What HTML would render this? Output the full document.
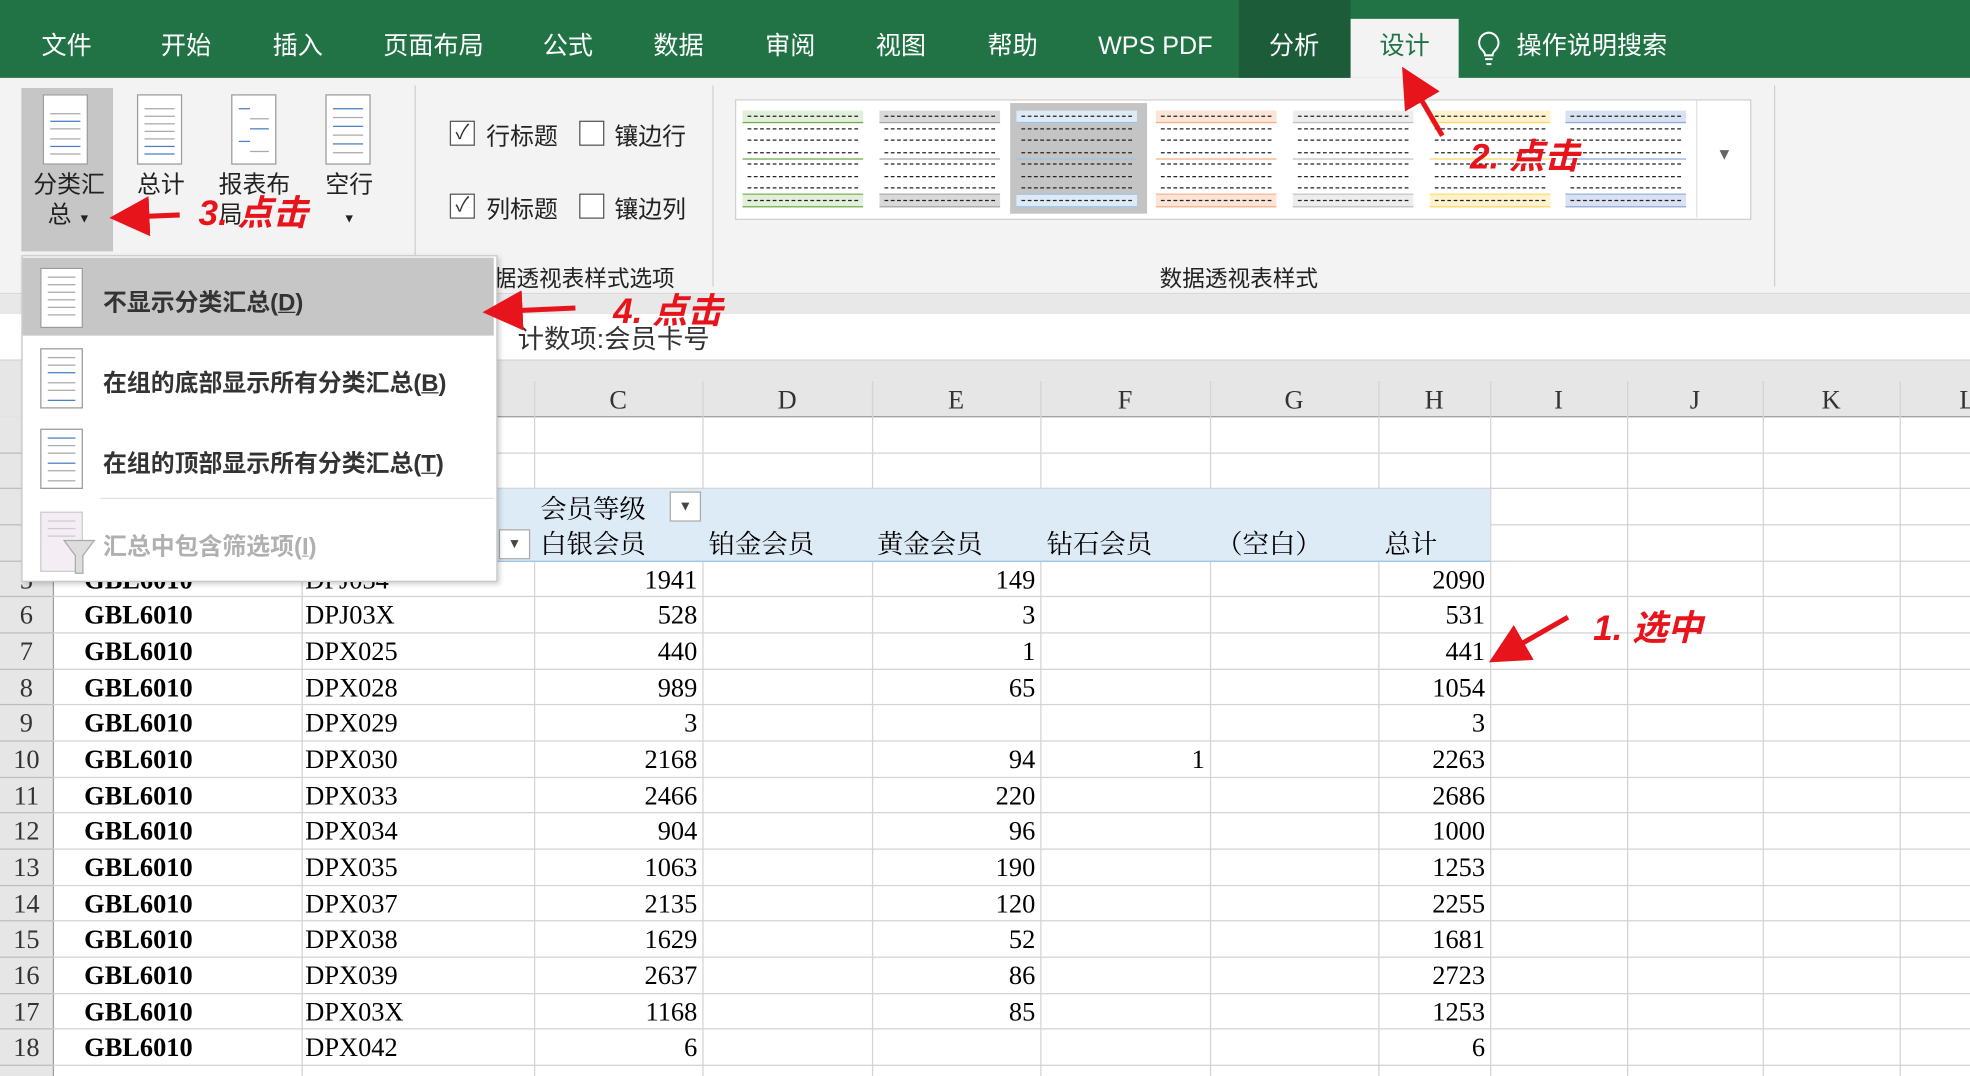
<!DOCTYPE html>
<html><head><meta charset="utf-8">
<style>
html,body{margin:0;padding:0;width:1970px;height:1076px;overflow:hidden;background:#fff}
#root{position:absolute;left:0;top:0;width:1568px;height:856px;transform:scale(1.25638,1.257);transform-origin:0 0;overflow:hidden;font-family:"Liberation Sans","Noto Sans CJK SC",sans-serif}
.abs{position:absolute}
.tab{position:absolute;top:22px;color:#fff;font-size:20px;line-height:30px}
.cell{position:absolute;font-size:21px;line-height:28px;font-family:"Liberation Serif","Noto Serif CJK SC",serif;color:#000;white-space:nowrap}
.hl{position:absolute;height:1px;background:#d4d4d4}
.vl{position:absolute;width:1px;background:#d4d4d4}
.page{position:absolute;width:34px;height:54px;background:#fff;border:1px solid #9a9a9a}
.page i{position:absolute;left:5px;right:5px;height:1px;background:#aaa}
.cb{position:absolute;width:18px;height:18px;border:1px solid #555;background:#fff;font-size:16px;line-height:18px;text-align:center;color:#333}
.rl{position:absolute;font-size:19px;color:#222}
.thumb{position:absolute;top:88px;width:96px;height:76px}
.mi{position:absolute;left:82px;font-size:19px;font-weight:bold;color:#333}
.red{position:absolute;color:#e8141c;font-style:italic;font-size:28px;font-weight:bold;white-space:nowrap}
</style></head><body>
<div id="root">
<div class="abs" style="left:0;top:0;width:1568px;height:62px;background:#217346"></div>
<div class="abs" style="left:986px;top:0;width:89px;height:62px;background:#1d5c39"></div>
<div class="abs" style="left:1075px;top:15px;width:86px;height:47px;background:#f3f3f3"></div>
<div class="tab" style="left:33px">文件</div>
<div class="tab" style="left:128px">开始</div>
<div class="tab" style="left:217px">插入</div>
<div class="tab" style="left:305px">页面布局</div>
<div class="tab" style="left:432px">公式</div>
<div class="tab" style="left:520px">数据</div>
<div class="tab" style="left:609px">审阅</div>
<div class="tab" style="left:697px">视图</div>
<div class="tab" style="left:786px">帮助</div>
<div class="tab" style="left:874px">WPS PDF</div>
<div class="tab" style="left:1010px">分析</div>
<div class="tab" style="left:1098px;color:#217346">设计</div>
<svg class="abs" style="left:1174px;top:24px" width="22" height="30"><path d="M11 2a8 8 0 0 0-5 14c1 1 2 2 2 4h6c0-2 1-3 2-4a8 8 0 0 0-5-14z" fill="none" stroke="#fff" stroke-width="1.6"/><line x1="8" y1="23" x2="14" y2="23" stroke="#fff" stroke-width="1.6"/><line x1="9" y1="27" x2="13" y2="27" stroke="#fff" stroke-width="1.6"/></svg>
<div class="tab" style="left:1207px">操作说明搜索</div>

<div class="abs" style="left:0;top:62px;width:1568px;height:171px;background:#f3f3f3;border-bottom:1px solid #d8d8d8"></div>
<div class="abs" style="left:0;top:234px;width:1568px;height:16px;background:#e8e8e8"></div>
<div class="abs" style="left:17px;top:70px;width:73px;height:130px;background:#c6c6c6"></div>
<div class="page" style="left:34px;top:75px"><i style="top:14px;background:#aaa"></i><i style="top:20px;background:#4a7fc1"></i><i style="top:26px"></i><i style="top:34px"></i><i style="top:40px;background:#4a7fc1"></i><i style="top:46px"></i></div>
<div class="page" style="left:109px;top:75px"><i style="top:10px"></i><i style="top:16px"></i><i style="top:22px"></i><i style="top:28px"></i><i style="top:34px"></i><i style="top:40px;background:#4a7fc1"></i><i style="top:46px;background:#4a7fc1"></i></div>
<div class="page" style="left:184px;top:75px"><i style="top:10px;right:20px;background:#4a7fc1"></i><i style="top:18px;left:14px"></i><i style="top:26px;left:14px;background:#4a7fc1"></i><i style="top:36px;right:20px;background:#4a7fc1"></i><i style="top:44px;left:14px"></i></div>
<div class="page" style="left:259px;top:75px"><i style="top:10px;background:#4a7fc1"></i><i style="top:17px"></i><i style="top:24px;background:#4a7fc1"></i><i style="top:31px"></i><i style="top:38px;background:#4a7fc1"></i><i style="top:45px"></i></div>
<div class="rl" style="left:25px;top:136px;width:60px;line-height:24px;text-align:center">分类汇<br>总 <span style="font-size:10px">▼</span></div>
<div class="rl" style="left:109px;top:136px;line-height:24px">总计</div>
<div class="rl" style="left:174px;top:136px;line-height:24px;width:60px">报表布<br>局</div>
<div class="rl" style="left:258px;top:136px;line-height:24px;text-align:center;width:40px">空行<br><span style="font-size:10px">▼</span></div>
<div class="abs" style="left:330px;top:68px;width:1px;height:160px;background:#d0d0d0"></div>
<div class="abs" style="left:567px;top:68px;width:1px;height:160px;background:#d0d0d0"></div>
<div class="abs" style="left:1412px;top:68px;width:1px;height:160px;background:#d0d0d0"></div>
<div class="cb" style="left:358px;top:96px">✓</div>
<div class="rl" style="left:387px;top:94px">行标题</div>
<div class="cb" style="left:461px;top:96px"></div>
<div class="rl" style="left:489px;top:94px">镶边行</div>
<div class="cb" style="left:358px;top:154px">✓</div>
<div class="rl" style="left:387px;top:152px">列标题</div>
<div class="cb" style="left:461px;top:154px"></div>
<div class="rl" style="left:489px;top:152px">镶边列</div>
<div class="rl" style="left:375px;top:208px;font-size:18px">数据透视表样式选项</div>
<div class="abs" style="left:585px;top:79px;width:807px;height:94px;background:#fff;border:1px solid #d0d0d0"></div>
<div class="abs" style="left:1350px;top:80px;width:1px;height:93px;background:#e0e0e0"></div>
<div class="abs" style="left:1366px;top:115px;font-size:13px;color:#666">▼</div>
<div class="abs" style="left:804px;top:82px;width:109px;height:88px;background:#c4c4c4"></div>
<div id="thumbs"></div>
<div class="rl" style="left:923px;top:208px;font-size:18px">数据透视表样式</div>

<div class="abs" style="left:0;top:250px;width:1568px;height:36px;background:#fff;border-bottom:1px solid #d0d0d0"></div>
<div class="abs" style="left:412px;top:254px;font-size:21px;color:#333">计数项:会员卡号</div>
<div class="abs" style="left:0;top:287px;width:1568px;height:16px;background:#e6e6e6"></div>

<div class="abs" style="left:0;top:303px;width:1568px;height:28px;background:#e6e6e6;border-bottom:1px solid #9e9e9e"></div>
<div class="abs" style="left:0;top:331px;width:42px;height:525px;background:#e6e6e6;border-right:1px solid #9e9e9e"></div>
<div id="grid"></div>
<div class="abs" style="left:42px;top:389px;width:1144px;height:57px;background:#ddebf7;border-bottom:1px solid #9bc2e6"></div>
<div id="grid2"></div>
<div class="cell" style="left:430px;top:391px">会员等级</div>
<div class="abs" style="left:533px;top:391px;width:23px;height:22px;background:#fff;border:1px solid #aaa;font-size:11px;text-align:center;line-height:22px;color:#444">▼</div>
<div class="abs" style="left:397px;top:421px;width:23px;height:22px;background:#fff;border:1px solid #aaa;font-size:11px;text-align:center;line-height:22px;color:#444">▼</div>

<div class="abs" style="left:17px;top:203px;width:377px;height:258px;background:#fff;border:1px solid #c6c6c6;box-shadow:2px 2px 4px rgba(0,0,0,.2)"></div>
<div class="abs" style="left:18px;top:205px;width:375px;height:62px;background:#c6c6c6"></div>
<div class="page" style="left:32px;top:213px;width:32px;height:46px"><i style="top:6px"></i><i style="top:12px"></i><i style="top:18px"></i><i style="top:24px"></i><i style="top:30px"></i><i style="top:36px"></i></div>
<div class="page" style="left:32px;top:277px;width:32px;height:46px"><i style="top:6px"></i><i style="top:12px"></i><i style="top:18px;background:#4a7fc1"></i><i style="top:26px"></i><i style="top:32px"></i><i style="top:40px;background:#4a7fc1"></i></div>
<div class="page" style="left:32px;top:341px;width:32px;height:46px"><i style="top:6px;background:#4a7fc1"></i><i style="top:12px"></i><i style="top:18px"></i><i style="top:26px;background:#4a7fc1"></i><i style="top:32px"></i><i style="top:40px"></i></div>
<div class="page" style="left:32px;top:407px;width:32px;height:46px;background:#f4eef4;border-color:#ccc"><i style="top:6px;background:#ccc"></i><i style="top:12px;background:#ccc"></i><i style="top:18px;background:#ccc"></i></div>
<svg class="abs" style="left:50px;top:428px" width="26" height="30"><path d="M1 2h24l-9 12v14h-6V14z" fill="#ddd" stroke="#aaa"/></svg>
<div class="mi" style="top:226px">不显示分类汇总(<u>D</u>)</div>
<div class="mi" style="top:290px">在组的底部显示所有分类汇总(<u>B</u>)</div>
<div class="mi" style="top:354px">在组的顶部显示所有分类汇总(<u>T</u>)</div>
<div class="abs" style="left:80px;top:396px;width:313px;height:1px;background:#e0e0e0"></div>
<div class="mi" style="top:420px;color:#b0b0b0">汇总中包含筛选项(<u>I</u>)</div>

<svg class="abs" style="left:0;top:0" width="1568" height="856">
<defs><marker id="ah" markerWidth="8" markerHeight="8" refX="6" refY="4" orient="auto"><path d="M0 0L8 4L0 8z" fill="#e8141c"/></marker></defs>
<g stroke="#e8141c" stroke-width="4" fill="none" marker-end="url(#ah)">
<line x1="1248" y1="491" x2="1192" y2="523"/>
<line x1="1148" y1="108" x2="1120" y2="60"/>
<line x1="143" y1="171" x2="95" y2="173"/>
<line x1="458" y1="245" x2="392" y2="248"/>
</g></svg>
<div class="red" style="left:1268px;top:478px">1. 选中</div>
<div class="red" style="left:1170px;top:103px">2. 点击</div>
<div class="red" style="left:158px;top:148px">3. 点击</div>
<div class="red" style="left:488px;top:226px">4. 点击</div>
</div>
<script>
const colLetters=["C","D","E","F","G","H","I","J","K","L"];
const rowNums=[5,6,7,8,9,10,11,12,13,14,15,16,17,18];
const colA=["GBL6010","GBL6010","GBL6010","GBL6010","GBL6010","GBL6010","GBL6010","GBL6010","GBL6010","GBL6010","GBL6010","GBL6010","GBL6010","GBL6010"];
const colB=["DPJ034","DPJ03X","DPX025","DPX028","DPX029","DPX030","DPX033","DPX034","DPX035","DPX037","DPX038","DPX039","DPX03X","DPX042"];
const silver=[1941,528,440,989,3,2168,2466,904,1063,2135,1629,2637,1168,6];
const gold=[149,3,1,65,null,94,220,96,190,120,52,86,85,null];
const diamond=[null,null,null,null,null,1,null,null,null,null,null,null,null,null];
const totals=[2090,531,441,1054,3,2263,2686,1000,1253,2255,1681,2723,1253,6];
const headers=["白银会员","铂金会员","黄金会员","钻石会员","（空白）","总计"];

const g=document.getElementById('grid');
const g2=document.getElementById('grid2');
const colEdges=[42,240,425,559,694,828,963,1097,1186,1295,1403,1512,1620];
const top0=331,rh=28.67;
function add(html,name,inter,target){const d=document.createElement('div');d.innerHTML=html;const el=d.firstChild;


(target||g2).appendChild(el);return el;}
for(let i=1;i<colEdges.length-1;i++){
 add('<div class="vl" style="left:'+colEdges[i]+'px;top:303px;height:553px"></div>','column-gridline','false',g);
}
for(let r=0;r<19;r++){
 const y=Math.round(top0+rh*(r+1));
 add('<div class="hl" style="left:42px;top:'+y+'px;width:1526px"></div>','row-gridline','false',g);
 add('<div class="hl" style="left:0;top:'+y+'px;width:42px;background:#bdbdbd"></div>','row-header-line','false',g);
}
colLetters.forEach((c,i)=>{
 const l=colEdges[i+2],w=colEdges[i+3]-l;
 add('<div class="cell" style="left:'+l+'px;width:'+w+'px;top:304px;text-align:center;color:#333">'+c+'</div>','column-header-'+c.toLowerCase(),'true');
});
const hx=[430,564,698,833,968,1102];
headers.forEach((h,i)=>{add('<div class="cell" style="left:'+hx[i]+'px;top:419px">'+h+'</div>','pivot-column-header','false');});
function right(v,edge,y,name){if(v==null)return;add('<div class="cell" style="left:'+(edge-140)+'px;width:136px;text-align:right;top:'+y+'px">'+v+'</div>',name,'false');}
rowNums.forEach((n,i)=>{
 const y=Math.round(top0+rh*(4+i))+1;
 add('<div class="cell" style="left:0;width:42px;text-align:center;top:'+y+'px;color:#333">'+n+'</div>','row-header-'+n,'true');
 add('<div class="cell" style="left:67px;top:'+y+'px;font-weight:bold">'+colA[i]+'</div>','store-code-cell','false');
 add('<div class="cell" style="left:243px;top:'+y+'px">'+colB[i]+'</div>','product-code-cell','false');
 right(silver[i],559,y,'silver-count-cell');
 right(gold[i],828,y,'gold-count-cell');
 right(diamond[i],963,y,'diamond-count-cell');
 right(totals[i],1186,y,'total-count-cell');
});
const th=document.getElementById('thumbs');
const tcol=[["#70ad47","#e2efda"],["#a5a5a5","#d9d9d9"],["#9bc2e6","#ddebf7"],["#f4b084","#fce4d6"],["#c0c0c0","#ededed"],["#ffd966","#fff2cc"],["#8ea9db","#d9e1f2"]];
const tx=[591,700,809,920,1029,1138,1246];
tcol.forEach((c,i)=>{
 let s='<div class="thumb" style="left:'+tx[i]+'px">';
 for(let k=0;k<8;k++){const band=(k==0||k==7);s+='<div style="position:absolute;left:0;right:0;top:'+(k*9.5)+'px;height:9px;'+(band?'background:'+c[1]+';':'')+'border-bottom:1px solid '+(k%3==0||band?c[0]:'transparent')+'"><div style="margin:4px 4px 0;border-top:1px dashed #222;height:0"></div></div>';}
 s+='</div>';
 const d=document.createElement('div');d.innerHTML=s;const el=d.firstChild;
 
 
 th.appendChild(el);
});
</script>
</body></html>
